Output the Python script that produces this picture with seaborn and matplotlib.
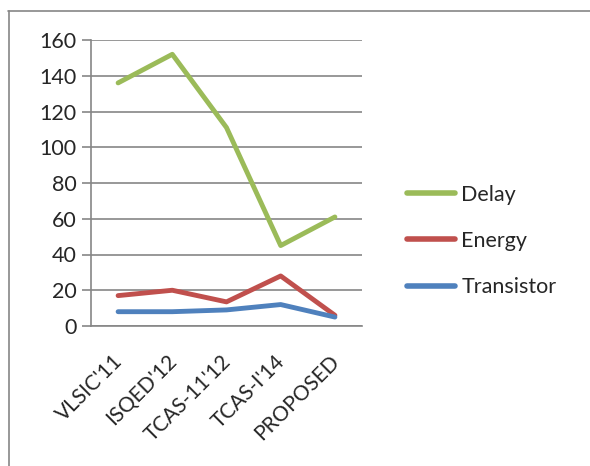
import matplotlib
matplotlib.use("Agg")
import matplotlib.pyplot as plt
import matplotlib.transforms as mtransforms
import seaborn as sns
import pandas as pd
from matplotlib.lines import Line2D

# Data
designs = ["VLSIC'11", "ISQED'12", "TCAS-11'12", "TCAS-I'14", "PROPOSED"]
delay = [136, 152, 111, 45, 61]
energy = [17, 20, 13.5, 28, 6]
transistor = [8, 8, 9, 12, 5]

df = pd.DataFrame({"design": designs, "Delay": delay, "Energy": energy, "Transistor": transistor})
long_df = df.melt(id_vars="design", var_name="metric", value_name="value")

palette_colors = {"Delay": "#9BBB59", "Energy": "#C0504D", "Transistor": "#4F81BD"}

sns.set_style("white")
plt.rcParams["font.family"] = ["Lato", "DejaVu Sans"]

fig = plt.figure(figsize=(5.9, 4.66), dpi=100)
ax = fig.add_axes([91 / 590, 1 - 326 / 466, (362 - 91) / 590, (326 - 40) / 466])

sns.lineplot(data=long_df, x="design", y="value", hue="metric", palette=palette_colors,
             linewidth=3.5, sort=False, ax=ax, legend=False)

ax.set_xlim(-0.5, len(designs) - 0.5)
ax.set_ylim(0, 160)
ax.set_yticks(range(0, 161, 20))
ax.yaxis.grid(True, color="#868686", linewidth=1.2)
ax.set_axisbelow(True)
ax.set_xlabel("")
ax.set_ylabel("")

for side in ["top", "right"]:
    ax.spines[side].set_visible(False)
for side in ["left", "bottom"]:
    ax.spines[side].set_color("#868686")
    ax.spines[side].set_linewidth(1.2)

# category boundary ticks
ax.set_xticks([i - 0.5 for i in range(len(designs) + 1)], minor=True)
ax.tick_params(axis="x", which="minor", length=6, color="#868686", width=1.2, direction="out")
ax.tick_params(axis="x", which="major", length=0, labelsize=15, pad=18)
ax.tick_params(axis="y", length=6.5, color="#868686", width=1.2, labelsize=15.5, pad=4, left=True)
ax.set_xticks(range(len(designs)))
ax.set_xticklabels(designs, rotation=45, ha="right", rotation_mode="anchor")
shift = mtransforms.ScaledTranslation(-6 / 100, 0, fig.dpi_scale_trans)
for lbl in ax.get_xticklabels():
    lbl.set_transform(lbl.get_transform() + shift)

handles = [Line2D([0], [0], color=palette_colors[k], linewidth=4) for k in ["Delay", "Energy", "Transistor"]]
fig.legend(handles, ["Delay", "Energy", "Transistor"], loc="center left",
           bbox_to_anchor=(388 / 590, 1 - 241 / 466), frameon=False, fontsize=15.5,
           handlelength=2.2, labelspacing=1.22, handletextpad=0.3)

# outer chart frame (top and left visible)
fig.add_artist(Line2D([8 / 590, 1.0], [1 - 10.5 / 466, 1 - 10.5 / 466], color="#868686", linewidth=1.2,
                      transform=fig.transFigure))
fig.add_artist(Line2D([8.5 / 590, 8.5 / 590], [0, 1 - 10.5 / 466], color="#868686", linewidth=1.2,
                      transform=fig.transFigure))

fig.savefig("out.png", dpi=100)
